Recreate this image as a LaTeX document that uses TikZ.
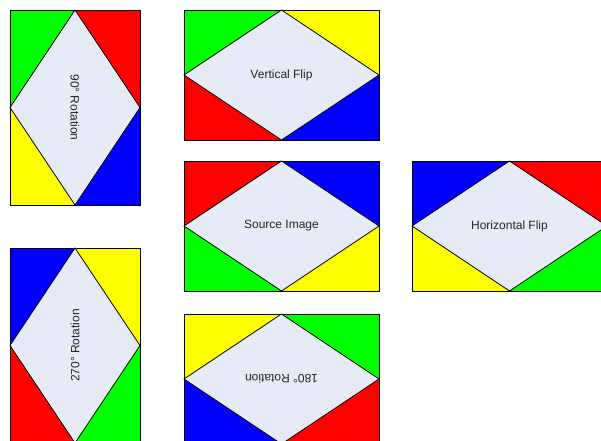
\documentclass[tikz,border=0pt]{standalone}
\usepackage{fontspec}
\setmainfont{Liberation Sans}
\usepackage{tikz}
\definecolor{diamondfill}{HTML}{E6EBF5}
\definecolor{pgreen}{HTML}{00FF00}
\definecolor{pred}{HTML}{FF0000}
\definecolor{pyellow}{HTML}{FFFF00}
\definecolor{pblue}{HTML}{0000FF}
\tikzset{
    edgeline/.style={draw=black, line width=0.8pt},
    tilelabel/.style={font=\fontsize{12}{14}\selectfont, text=black!85, inner sep=0pt}
}
% one tile: width, height, then corner colours TL, TR, BL, BR
\newcommand{\flipbox}[6]{
    \fill[#3] (0,0) -- (#1/2,0) -- (0,#2/2) -- cycle;
    \fill[#4] (#1/2,0) -- (#1,0) -- (#1,#2/2) -- cycle;
    \fill[#5] (0,#2/2) -- (#1/2,#2) -- (0,#2) -- cycle;
    \fill[#6] (#1,#2/2) -- (#1,#2) -- (#1/2,#2) -- cycle;
    \path[edgeline, fill=diamondfill] (#1/2,0) -- (#1,#2/2) -- (#1/2,#2) -- (0,#2/2) -- cycle;
    \path[edgeline] (0,0) rectangle (#1,#2);
}

\begin{document}
\begin{tikzpicture}[x=1pt, y=-1pt]
    \useasboundingbox (0,0) rectangle (601,440);
    \clip (0,0) rectangle (601,440);

    \begin{scope}[shift={(10,10)}]
        \flipbox{130}{195}{pgreen}{pred}{pyellow}{pblue}
        \node[tilelabel, rotate=-90] (rot90) at (65,97.5) {90° Rotation};
    \end{scope}

    \begin{scope}[shift={(184,10)}]
        \flipbox{195}{130}{pgreen}{pyellow}{pred}{pblue}
        \node[tilelabel] (vflip) at (97.5,65) {Vertical Flip};
    \end{scope}

    \begin{scope}[shift={(184,161)}]
        \flipbox{195}{130}{pred}{pblue}{pgreen}{pyellow}
        \node[tilelabel] (source) at (97.5,65) {Source Image};
    \end{scope}

    \begin{scope}[shift={(412,161)}]
        \flipbox{195}{130}{pblue}{pred}{pyellow}{pgreen}
        \node[tilelabel] (hflip) at (97.5,65) {Horizontal Flip};
    \end{scope}

    \begin{scope}[shift={(10,248)}]
        \flipbox{130}{195}{pblue}{pyellow}{pred}{pgreen}
        \node[tilelabel, rotate=90] (rot270) at (65,97.5) {270° Rotation};
    \end{scope}

    \begin{scope}[shift={(184,314)}]
        \flipbox{195}{130}{pyellow}{pgreen}{pblue}{pred}
        \node[tilelabel, rotate=180] (rot180) at (97.5,65) {180° Rotation};
    \end{scope}
\end{tikzpicture}
\end{document}
